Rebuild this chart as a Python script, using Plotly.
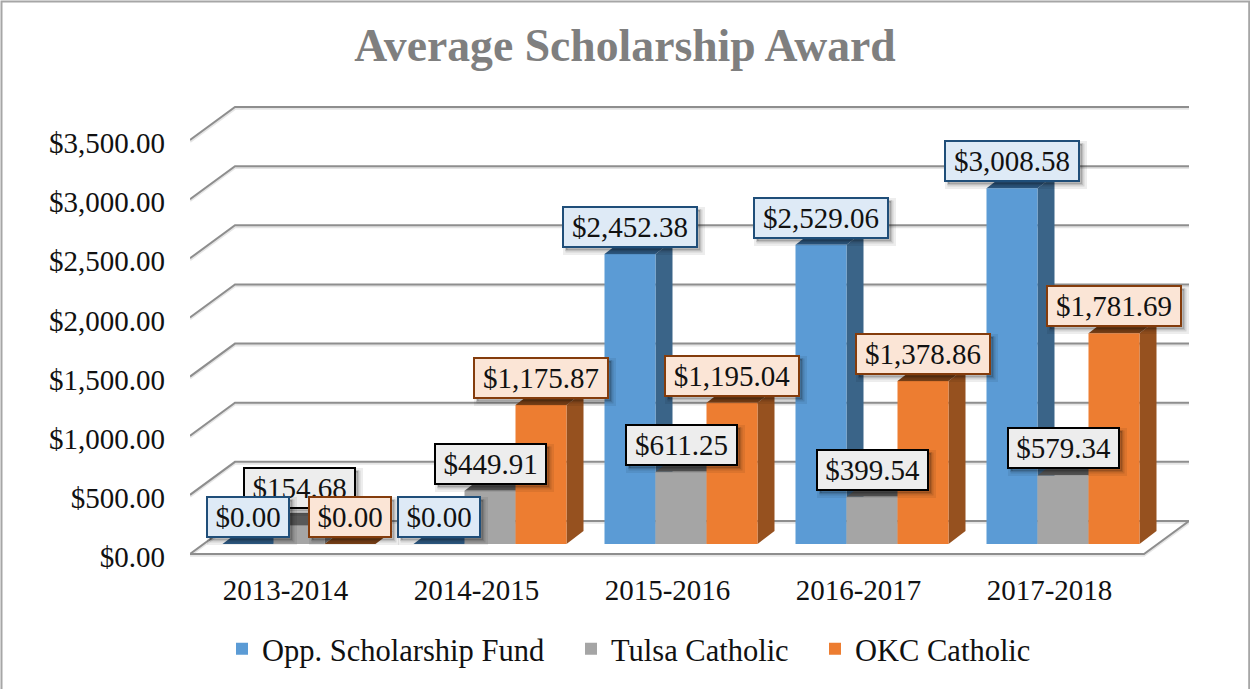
import plotly.graph_objects as go

categories = ["2013-2014", "2014-2015", "2015-2016", "2016-2017", "2017-2018"]
series_names = ["Opp. Scholarship Fund", "Tulsa Catholic", "OKC Catholic"]
opp_values = [0.00, 0.00, 2452.38, 2529.06, 3008.58]
tulsa_values = [154.68, 449.91, 611.25, 399.54, 579.34]
okc_values = [0.00, 1175.87, 1195.04, 1378.86, 1781.69]
y_ticks = [0, 500, 1000, 1500, 2000, 2500, 3000, 3500]

FONT = "Liberation Serif"
FS = 29
series = [opp_values, tulsa_values, okc_values]
front = ["#5B9BD5", "#A5A5A5", "#ED7D31"]
side = ["#3A6488", "#6E6E6E", "#96511F"]
top = ["#2F5C86", "#585858", "#7E4318"]
box_bg = ["#DEEAF6", "#EDEDED", "#FBE5D6"]
box_line = ["#1F4E79", "#000000", "#843C0C"]

# plot-area geometry
ML, MR, MT, MB = 190, 61, 100, 125
W, H = 1250, 689
xmin, xmax = -0.5, 4.5 + 44 / 191
px_per_x = 191
px_per_y = 59.14 / 500
floor_y = -10 / px_per_y
ymin = -20 / px_per_y
ymax = 444 / px_per_y
floor_dx, floor_dy = 45 / px_per_x, 33 / px_per_y
bar_dx, bar_dy = 17 / px_per_x, 13 / px_per_y
bar_w = 51 / px_per_x
group_shift = 13.5 / px_per_x


def path(pts, close=False):
    s = "M" + " L".join(f"{x:.5f},{y:.3f}" for x, y in pts)
    return s + (" Z" if close else "")


def poly(pts, fill):
    return dict(type="path", path=path(pts, True), xref="x", yref="y", layer="below",
                fillcolor=fill, line=dict(width=0))


shapes = []
# chart frame
shapes.append(dict(type="rect", xref="paper", yref="paper", layer="below",
                   x0=(1.5 - ML) / (W - ML - MR), x1=(1249.2 - ML) / (W - ML - MR),
                   y0=-0.5, y1=1 + (MT - 1.5) / (H - MT - MB),
                   line=dict(color="#A6A6A6", width=2), fillcolor="rgba(0,0,0,0)"))
# walls and floor
for v in y_ticks:
    fy = v + floor_y
    by = fy + floor_dy
    pts = [(xmin, fy), (xmin + floor_dx, by), (xmax, by)]
    if v == 0:
        pts += [(xmax - floor_dx, fy), (xmin, fy)]
    offs = 1.6 / px_per_y
    shapes.append(dict(type="path", path=path([(x, y - offs) for x, y in pts]), xref="x", yref="y",
                       layer="below", line=dict(color="rgba(0,0,0,0.10)", width=2.5)))
    shapes.append(dict(type="path", path=path(pts), xref="x", yref="y", layer="below",
                       line=dict(color="#8E8E8E", width=2)))

# depth faces of the bars (side and top), in series order so later series cover earlier ones
for s, vals in enumerate(series):
    for i, v in enumerate(vals):
        c = i + group_shift + (s - 1) * bar_w
        l, r = c - bar_w / 2, c + bar_w / 2
        shapes.append(poly([(r, 0), (r + bar_dx, bar_dy), (r + bar_dx, v + bar_dy), (r, v)], side[s]))
        shapes.append(poly([(l, v), (l + bar_dx, v + bar_dy), (r + bar_dx, v + bar_dy), (r, v)], top[s]))

fig = go.Figure()
legend_ids = ["legend", "legend2", "legend3"]
for s, vals in enumerate(series):
    fig.add_trace(go.Bar(
        x=[i + group_shift + (s - 1) * bar_w for i in range(len(categories))],
        y=vals, width=bar_w, name=series_names[s], legend=legend_ids[s],
        marker=dict(color=front[s], line=dict(width=0)),
        hoverinfo="x+y",
    ))

# data labels: Tulsa first, because the others sit on top of it in the reference
label_lift = {(1, 0): 38}
annotations = []
for s in (1, 0, 2):
    for i, v in enumerate(series[s]):
        txt = f"${v:,.2f}"
        c = i + group_shift + (s - 1) * bar_w
        w = 80 if v == 0 else (109 if v < 1000 else 132)
        lift = label_lift.get((s, i), 27)
        base = dict(x=c, y=v, xref="x", yref="y", showarrow=False, width=w, height=38, borderpad=0,
                    font=dict(family=FONT, size=FS, color="#111111"))
        annotations.append(dict(base, text="&nbsp;", xshift=4, yshift=lift - 4, bgcolor="rgba(0,0,0,0.10)",
                                bordercolor="rgba(0,0,0,0.07)", borderwidth=5))
        annotations.append(dict(base, text="&nbsp;", xshift=3, yshift=lift - 3, bgcolor="rgba(0,0,0,0.20)",
                                bordercolor="rgba(0,0,0,0.10)", borderwidth=2))
        annotations.append(dict(base, text=txt, xshift=0, yshift=lift, bgcolor=box_bg[s], bordercolor=box_line[s],
                                borderwidth=2))

legend_style = dict(orientation="h", xref="container", xanchor="left", y=1 - 649 / H, yref="container",
                    yanchor="middle", font=dict(family=FONT, size=30.5, color="#111111"),
                    bgcolor="rgba(0,0,0,0)")

fig.update_layout(
    width=W, height=H, margin=dict(l=ML, r=MR, t=MT, b=MB, autoexpand=False),
    paper_bgcolor="white", plot_bgcolor="rgba(0,0,0,0)",
    barmode="overlay", shapes=shapes, annotations=annotations,
    title=dict(text="<b>Average Scholarship Award</b>", x=625 / W, xanchor="center", y=1 - 45.5 / H, yanchor="middle",
               font=dict(family=FONT, size=45.7, color="#7F7F7F")),
    xaxis=dict(range=[xmin, xmax], tickmode="array", tickvals=list(range(len(categories))), ticktext=categories,
               showgrid=False, zeroline=False, showline=False, ticks="", ticklabelstandoff=6,
               tickfont=dict(family=FONT, size=FS, color="#111111")),
    yaxis=dict(range=[ymin, ymax], tickmode="array",
               tickvals=[v + floor_y - 3 / px_per_y for v in y_ticks],
               ticktext=[f"${v:,.2f}" for v in y_ticks],
               showgrid=False, zeroline=False, showline=False, ticks="", ticklabelstandoff=24,
               tickfont=dict(family=FONT, size=FS, color="#111111")),
    legend=dict(legend_style, x=222 / W),
    legend2=dict(legend_style, x=571 / W),
    legend3=dict(legend_style, x=815 / W),
    showlegend=True,
)
fig.write_html("out.html", config=dict(displayModeBar=False),
               post_script="document.body.style.margin='0';document.body.style.overflow='hidden';")
